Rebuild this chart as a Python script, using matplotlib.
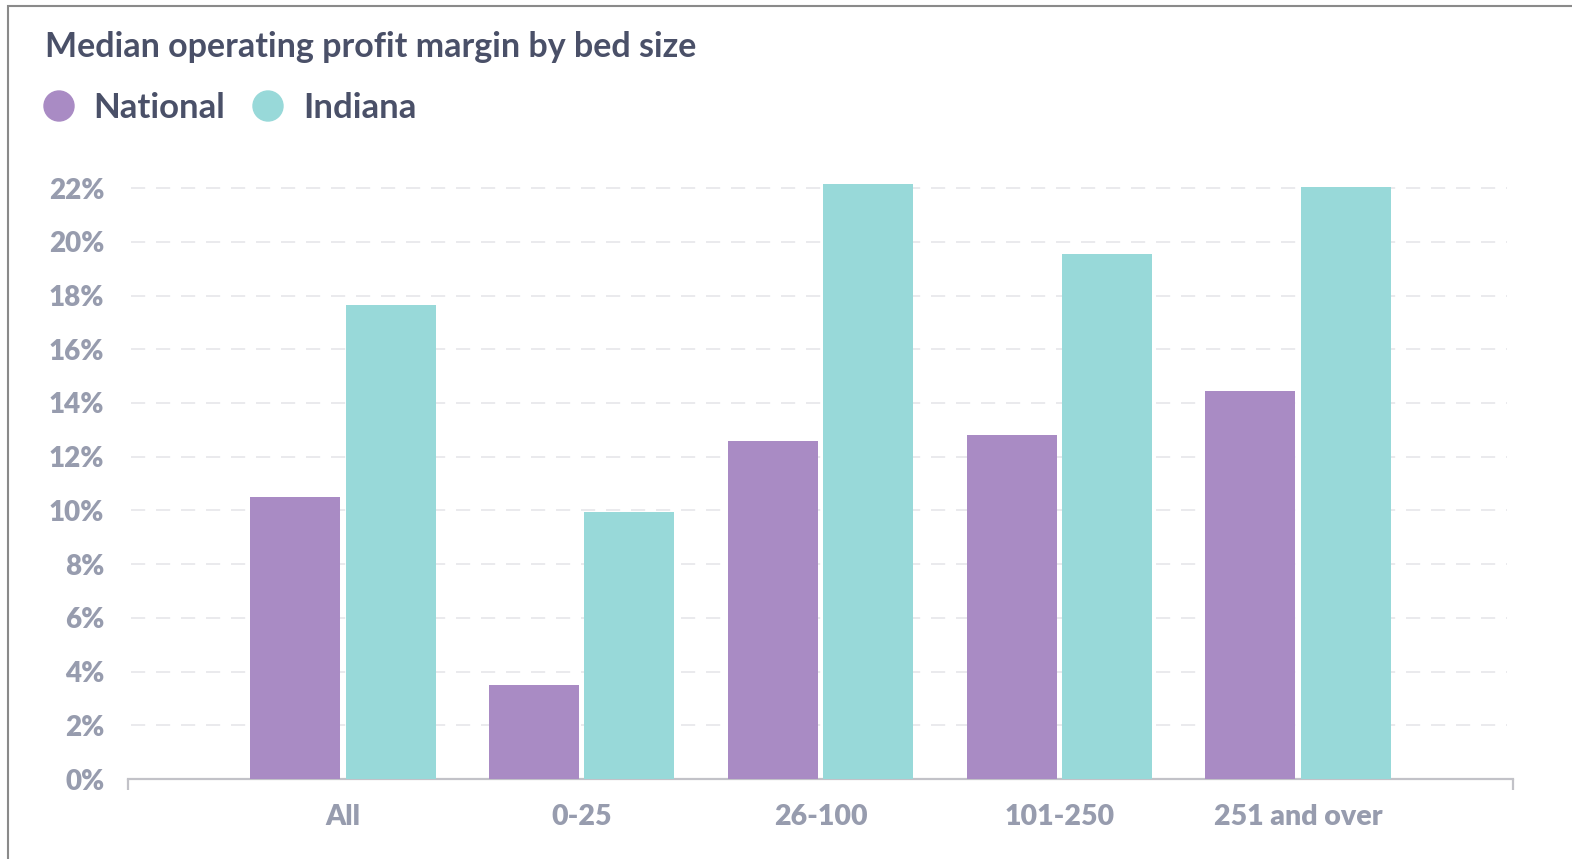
import matplotlib
matplotlib.use("Agg")
from matplotlib import pyplot as plt
from matplotlib.patches import Ellipse, Rectangle
import numpy as np

plt.rcParams['font.family'] = ['Lato', 'DejaVu Sans']

# data
categories = ["All", "0-25", "26-100", "101-250", "251 and over"]
national = [10.5, 3.5, 12.6, 12.8, 14.45]
indiana = [17.65, 9.95, 22.15, 19.55, 22.05]
y_ticks = [0, 2, 4, 6, 8, 10, 12, 14, 16, 18, 20, 22]

purple = "#a98bc4"
teal = "#98d9d9"
title_color = "#4a5068"
tick_color = "#979cae"

W, H = 1572, 859
fig = plt.figure(figsize=(W / 100, H / 100), dpi=100)

# axes placed in pixel terms: x 128..1513, y 0% at 779, 23% at ~161
left, right = 128 / W, 1513 / W
bottom = (H - 779) / H
top = (H - (779 - 23 * 26.86)) / H
ax = fig.add_axes([left, bottom, right - left, top - bottom])

x = np.arange(len(categories))
bw = 0.377
ax.bar(x - 0.2, national, width=bw, color=purple, zorder=3)
ax.bar(x + 0.2, indiana, width=bw, color=teal, zorder=3)

ax.set_xlim(-0.9, 4.9)
ax.set_ylim(0, 23)

# dashed gridlines
for yv in y_ticks[1:]:
    ax.axhline(yv, xmin=0.002, xmax=0.996, color="#e6e6ea", lw=1.2,
               linestyle=(0, (8.5, 6.5)), zorder=1)

for s in ["top", "right", "left"]:
    ax.spines[s].set_visible(False)
ax.spines["bottom"].set_color("#c2c2c8")
ax.spines["bottom"].set_linewidth(1.6)

ax.set_yticks(y_ticks)
ax.set_yticklabels([f"{v}%" for v in y_ticks], fontweight="heavy")
ax.set_xticks(x)
ax.set_xticklabels(categories, fontweight="heavy")
ax.tick_params(axis="y", length=0, pad=17, labelsize=20, labelcolor=tick_color)
ax.tick_params(axis="x", length=0, pad=18, labelsize=20.5, labelcolor=tick_color)

# end ticks on the x axis
ax.set_xticks([-0.9, 4.9], minor=True)
ax.tick_params(axis="x", which="minor", length=8, width=1.6, color="#c2c2c8")

# title and legend
fig.text(45 / W, 1 - 47 / H, "Median operating profit margin by bed size",
         fontsize=24.5, fontweight="bold", color=title_color, va="center", ha="left")
for cx, tx, name, col in [(59, 93, "National", purple), (268, 303, "Indiana", teal)]:
    fig.patches.append(Ellipse((cx / W, 1 - 106 / H), 30 / W, 30 / H,
                               transform=fig.transFigure, color=col))
    fig.text(tx / W, 1 - 108 / H, name, fontsize=25, fontweight="bold",
             color=title_color, va="center", ha="left")

# frame of the screenshot
fig.patches.append(Rectangle((8 / W, -0.05), 1.2, 1 - 6 / H + 0.05,
                             transform=fig.transFigure, fill=False,
                             edgecolor="#8a8a8a", lw=1.5))

fig.savefig("out.png", dpi=100)
